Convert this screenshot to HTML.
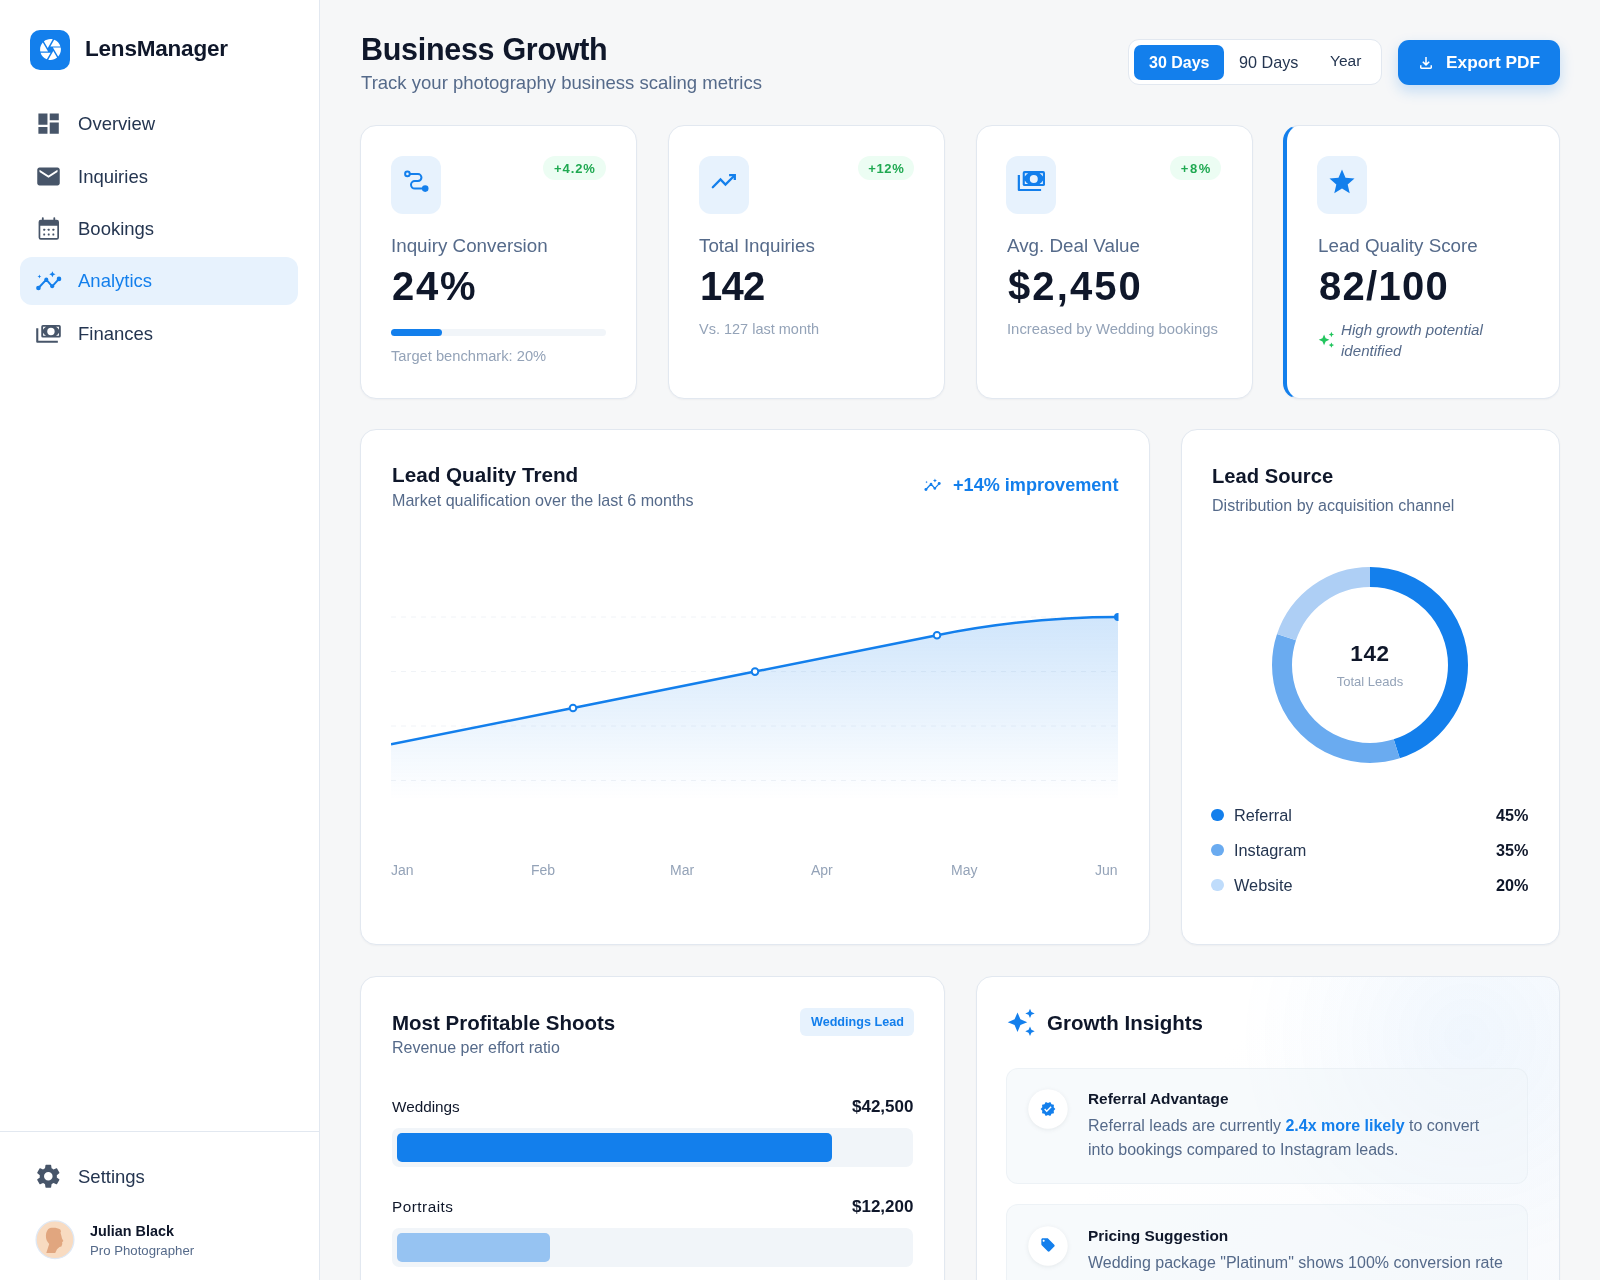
<!DOCTYPE html>
<html><head><meta charset="utf-8"><title>LensManager - Business Growth</title>
<style>
*{box-sizing:border-box;margin:0;padding:0}
html,body{width:1600px;height:1280px;overflow:hidden}
body{background:#f6f7f8;font-family:"Liberation Sans",sans-serif;position:relative}
.a{position:absolute;display:block}
.t{position:absolute;white-space:nowrap;line-height:1;will-change:transform}
.card{position:absolute;background:#fff;border:1px solid #e2e8f0;border-radius:16px;box-shadow:0 1px 2px rgba(15,23,42,0.04)}
</style></head><body>

<div class="a" style="left:0px;top:0px;width:320px;height:1280px;background:#fff;border-right:1px solid #e2e8f0;"></div>
<div class="a" style="left:30px;top:30px;width:40px;height:40px;background:#137fec;border-radius:10px;"></div>
<svg class="a" style="left:37.5px;top:37.4px;" width="25" height="25" viewBox="0 0 24 24"><path fill="#fff" d="M9.4 10.5l4.77-8.26C13.47 2.090 12.75 2 12 2c-2.4 0-4.6.85-6.32 2.25l3.66 6.35.06-.1zM21.54 9c-.92-2.92-3.15-5.26-6-6.34L11.88 9h9.66zm.26 1h-7.49l.29.5 4.76 8.25C21 16.97 22 14.61 22 12c0-.69-.07-1.35-.2-2zM8.54 12l-3.9-6.75C3.01 7.03 2 9.39 2 12c0 .69.07 1.35.2 2h7.49l-1.15-2zm-6.08 3c.92 2.92 3.150 5.26 6 6.34L12.12 15H2.46zm11.27 0l-3.9 6.76c.7.15 1.42.24 2.17.24 2.4 0 4.6-.85 6.32-2.25l-3.66-6.35-.93 1.6z"/></svg>
<div class="t" style="left:85px;top:38.15px;font-size:22.5px;font-weight:700;color:#0f172a;letter-spacing:-0.2px;">LensManager</div>
<div class="a" style="left:20px;top:257px;width:278px;height:48px;background:#e7f2fd;border-radius:12px;"></div>
<svg class="a" style="left:35.2px;top:110.05px;" width="27.2" height="27.2" viewBox="0 0 24 24"><path fill="#475569" d="M3 13h8V3H3v10zm0 8h8v-6H3v6zm10 0h8V11h-8v10zm0-18v6h8V3h-8z"/></svg>
<svg class="a" style="left:35.0px;top:162.5px;" width="27" height="27" viewBox="0 0 24 24"><path fill="#475569" d="M20 4H4c-1.1 0-1.99.9-1.99 2L2 18c0 1.1.9 2 2 2h16c1.1 0 2-.9 2-2V6c0-1.1-.9-2-2-2zm0 4l-8 5-8-5V6l8 5 8-5v2z"/></svg>
<div class="t" style="left:78px;top:114.64px;font-size:18.5px;font-weight:400;color:#243550;">Overview</div>
<div class="t" style="left:78px;top:167.79px;font-size:18.5px;font-weight:400;color:#243550;">Inquiries</div>
<div class="t" style="left:78px;top:220.29px;font-size:18.5px;font-weight:400;color:#243550;">Bookings</div>
<div class="t" style="left:78px;top:272.24px;font-size:18.5px;font-weight:400;color:#137fec;">Analytics</div>
<div class="t" style="left:78px;top:324.74px;font-size:18.5px;font-weight:400;color:#243550;">Finances</div>
<div class="a" style="left:0px;top:1131px;width:319px;height:1px;background:#e2e8f0;"></div>
<svg class="a" style="left:34.4px;top:1161.9px;" width="28.6" height="28.6" viewBox="0 0 24 24"><path fill="#475569" d="M19.14 12.94c.04-.3.06-.61.06-.94 0-.32-.02-.64-.07-.94l2.03-1.58c.18-.14.23-.41.12-.61l-1.92-3.32c-.12-.22-.37-.29-.59-.22l-2.39.96c-.5-.38-1.03-.7-1.62-.94l-.36-2.54c-.04-.24-.24-.41-.48-.41h-3.84c-.24 0-.43.17-.47.41l-.36 2.54c-.59.24-1.13.57-1.62.94l-2.39-.96c-.22-.08-.47 0-.59.22L2.74 8.87c-.12.21-.08.47.12.61l2.03 1.58c-.05.3-.09.63-.09.94s.02.64.07.94l-2.03 1.58c-.18.14-.23.41-.12.61l1.92 3.32c.12.22.37.29.59.22l2.39-.96c.5.38 1.03.7 1.62.94l.36 2.54c.05.24.24.41.48.41h3.84c.24 0 .44-.17.47-.41l.36-2.54c.59-.24 1.13-.56 1.62-.94l2.39.96c.22.08.47 0 .59-.22l1.92-3.32c.12-.22.07-.47-.12-.61l-2.01-1.58zM12 15.6c-1.98 0-3.6-1.62-3.6-3.6s1.62-3.6 3.6-3.6 3.6 1.62 3.6 3.6-1.62 3.6-3.6 3.6z"/></svg>
<div class="t" style="left:78px;top:1167.54px;font-size:18.5px;font-weight:400;color:#243550;">Settings</div>
<div class="t" style="left:90px;top:1224.41px;font-size:14.4px;font-weight:700;color:#0f172a;">Julian Black</div>
<div class="t" style="left:90px;top:1244.03px;font-size:13.2px;font-weight:400;color:#556a8a;">Pro Photographer</div>
<div class="t" style="left:361px;top:34.38px;font-size:30.5px;font-weight:700;color:#0f172a;letter-spacing:-0.3px;">Business Growth</div>
<div class="t" style="left:361px;top:73.80px;font-size:18.55px;font-weight:400;color:#556a8a;">Track your photography business scaling metrics</div>
<div class="a" style="left:1128px;top:39px;width:254px;height:46px;background:#fff;border:1px solid #e2e8f0;border-radius:11px;"></div>
<div class="a" style="left:1134px;top:45px;width:90px;height:35px;background:#137fec;border-radius:7px;"></div>
<div class="t" style="left:1149.4px;top:54.66px;font-size:16px;font-weight:700;color:#fff;">30 Days</div>
<div class="t" style="left:1239px;top:54.49px;font-size:16.2px;font-weight:400;color:#243550;">90 Days</div>
<div class="t" style="left:1329.5px;top:53.28px;font-size:15.5px;font-weight:400;color:#243550;">Year</div>
<div class="a" style="left:1398px;top:40px;width:162px;height:45px;background:#137fec;border-radius:11px;box-shadow:0 6px 14px rgba(19,127,236,0.22);"></div>
<svg class="a" style="left:1417px;top:53.7px;" width="18" height="18" viewBox="0 -960 960 960"><path fill="#fff" d="M480-320 280-520l56-58 104 104v-326h80v326l104-104 56 58-200 200ZM240-160q-33 0-56.5-23.5T160-240v-120h80v120h480v-120h80v120q0 33-23.5 56.5T720-160H240Z"/></svg>
<div class="t" style="left:1445.6px;top:54.36px;font-size:17.3px;font-weight:700;color:#fff;">Export PDF</div>
<div class="card" style="left:360px;top:125px;width:277px;height:274px;"></div>
<div class="card" style="left:668px;top:125px;width:277px;height:274px;"></div>
<div class="card" style="left:975.5px;top:125px;width:277px;height:274px;"></div>
<div class="card" style="left:1283px;top:125px;width:277px;height:274px;border-left:4px solid #137fec;"></div>
<div class="a" style="left:391.25px;top:156px;width:50px;height:58px;background:#e7f2fd;border-radius:12px;"></div>
<div class="a" style="left:698.9px;top:156px;width:50px;height:58px;background:#e7f2fd;border-radius:12px;"></div>
<div class="a" style="left:1006.3px;top:156px;width:50px;height:58px;background:#e7f2fd;border-radius:12px;"></div>
<div class="a" style="left:1317.3px;top:156px;width:50px;height:58px;background:#e7f2fd;border-radius:12px;"></div>
<svg class="a" style="left:1327.2px;top:167px;" width="30" height="30" viewBox="0 0 24 24"><path fill="#137fec" d="M12 17.27L18.18 21l-1.64-7.03L22 9.24l-7.19-.61L12 2 9.19 8.63 2 9.24l5.46 4.73L5.82 21z"/></svg>
<div class="a" style="left:543px;top:156px;width:63px;height:24px;background:#ecfdf3;border-radius:12px;"></div>
<div class="t" style="left:543px;width:63px;padding-left:0.9px;top:161.80px;font-size:13px;font-weight:700;color:#1fa951;text-align:center;letter-spacing:0.9px;">+4.2%</div>
<div class="a" style="left:857.6px;top:156px;width:56.0px;height:24px;background:#ecfdf3;border-radius:12px;"></div>
<div class="t" style="left:857.6px;width:56.0px;padding-left:0.6px;top:161.80px;font-size:13px;font-weight:700;color:#1fa951;text-align:center;letter-spacing:0.6px;">+12%</div>
<div class="a" style="left:1170px;top:156px;width:51px;height:24px;background:#ecfdf3;border-radius:12px;"></div>
<div class="t" style="left:1170px;width:51px;padding-left:1.6px;top:161.80px;font-size:13px;font-weight:700;color:#1fa951;text-align:center;letter-spacing:1.6px;">+8%</div>
<div class="t" style="left:391px;top:237.09px;font-size:18.8px;font-weight:400;color:#556a8a;">Inquiry Conversion</div>
<div class="t" style="left:699px;top:237.09px;font-size:18.8px;font-weight:400;color:#556a8a;">Total Inquiries</div>
<div class="t" style="left:1007px;top:237.09px;font-size:18.8px;font-weight:400;color:#556a8a;">Avg. Deal Value</div>
<div class="t" style="left:1318px;top:237.09px;font-size:18.8px;font-weight:400;color:#556a8a;">Lead Quality Score</div>
<div class="t" style="left:392px;top:266.44px;font-size:40px;font-weight:700;color:#0f172a;letter-spacing:1.8px;">24%</div>
<div class="t" style="left:699.5px;top:266.44px;font-size:40px;font-weight:700;color:#0f172a;letter-spacing:-0.8px;">142</div>
<div class="t" style="left:1007.5px;top:266.44px;font-size:40px;font-weight:700;color:#0f172a;letter-spacing:2.1px;">$2,450</div>
<div class="t" style="left:1319px;top:266.44px;font-size:40px;font-weight:700;color:#0f172a;letter-spacing:1.3px;">82/100</div>
<div class="a" style="left:391.4px;top:329px;width:214.5px;height:7px;background:#f1f5f9;border-radius:4px;"></div>
<div class="a" style="left:391.4px;top:329px;width:51px;height:7px;background:#137fec;border-radius:4px;"></div>
<div class="t" style="left:391.4px;top:348.96px;font-size:14.7px;font-weight:400;color:#94a3b8;">Target benchmark: 20%</div>
<div class="t" style="left:699px;top:322.03px;font-size:14.5px;font-weight:400;color:#94a3b8;">Vs. 127 last month</div>
<div class="t" style="left:1007px;top:321.83px;font-size:14.85px;font-weight:400;color:#94a3b8;">Increased by Wedding bookings</div>
<div class="t" style="left:1340.7px;top:322.02px;font-size:15.1px;font-weight:400;color:#556a8a;font-style:italic;">High growth potential</div>
<div class="t" style="left:1340.7px;top:342.52px;font-size:15.1px;font-weight:400;color:#556a8a;font-style:italic;">identified</div>
<div class="card" style="left:360px;top:429px;width:790px;height:516px;"></div>
<div class="t" style="left:391.7px;top:465.48px;font-size:20.7px;font-weight:700;color:#0f172a;">Lead Quality Trend</div>
<div class="t" style="left:391.7px;top:492.17px;font-size:16.1px;font-weight:400;color:#556a8a;">Market qualification over the last 6 months</div>
<div class="t" style="left:952.5px;top:476.28px;font-size:18.1px;font-weight:700;color:#137fec;">+14% improvement</div>
<div class="t" style="left:391px;top:862.95px;font-size:14px;font-weight:400;color:#94a3b8;">Jan</div>
<div class="t" style="left:530.5px;top:862.95px;font-size:14px;font-weight:400;color:#94a3b8;">Feb</div>
<div class="t" style="left:670px;top:862.95px;font-size:14px;font-weight:400;color:#94a3b8;">Mar</div>
<div class="t" style="left:811px;top:862.95px;font-size:14px;font-weight:400;color:#94a3b8;">Apr</div>
<div class="t" style="left:951px;top:862.95px;font-size:14px;font-weight:400;color:#94a3b8;">May</div>
<div class="t" style="right:482px;top:862.95px;font-size:14px;font-weight:400;color:#94a3b8;">Jun</div>
<div class="card" style="left:1180.5px;top:429px;width:379.5px;height:516px;"></div>
<div class="t" style="left:1211.6px;top:466.00px;font-size:20.2px;font-weight:700;color:#0f172a;">Lead Source</div>
<div class="t" style="left:1211.6px;top:497.41px;font-size:16.05px;font-weight:400;color:#556a8a;">Distribution by acquisition channel</div>
<div class="t" style="left:1270px;width:200px;text-align:center;top:643.35px;font-size:22.5px;font-weight:700;color:#0f172a;letter-spacing:0.7px;">142</div>
<div class="t" style="left:1270px;width:200px;text-align:center;top:675.30px;font-size:13px;color:#94a3b8;">Total Leads</div>
<div class="a" style="left:1211.3px;top:808.5px;width:12.3px;height:12.3px;background:#137fec;border-radius:50%;"></div>
<div class="t" style="left:1234.2px;top:806.50px;font-size:16.3px;font-weight:400;color:#243550;">Referral</div>
<div class="t" style="right:72px;top:806.59px;font-size:16.2px;font-weight:700;color:#0f172a;">45%</div>
<div class="a" style="left:1211.3px;top:843.5px;width:12.3px;height:12.3px;background:#6aabf0;border-radius:50%;"></div>
<div class="t" style="left:1234.2px;top:841.50px;font-size:16.3px;font-weight:400;color:#243550;">Instagram</div>
<div class="t" style="right:72px;top:841.59px;font-size:16.2px;font-weight:700;color:#0f172a;">35%</div>
<div class="a" style="left:1211.3px;top:878.5px;width:12.3px;height:12.3px;background:#bfdcfb;border-radius:50%;"></div>
<div class="t" style="left:1234.2px;top:876.50px;font-size:16.3px;font-weight:400;color:#243550;">Website</div>
<div class="t" style="right:72px;top:876.59px;font-size:16.2px;font-weight:700;color:#0f172a;">20%</div>
<div class="card" style="left:360px;top:976px;width:584.5px;height:340px;"></div>
<div class="t" style="left:392px;top:1013.05px;font-size:20.5px;font-weight:700;color:#0f172a;">Most Profitable Shoots</div>
<div class="t" style="left:392px;top:1040.46px;font-size:16px;font-weight:400;color:#556a8a;">Revenue per effort ratio</div>
<div class="a" style="left:800px;top:1007.5px;width:113.5px;height:28px;background:#e7f2fd;border-radius:6px;"></div>
<div class="t" style="left:810.5px;top:1015.93px;font-size:12.6px;font-weight:700;color:#137fec;">Weddings Lead</div>
<div class="t" style="left:391.5px;top:1099.05px;font-size:15.3px;font-weight:400;color:#0f172a;">Weddings</div>
<div class="t" style="right:687px;top:1097.91px;font-size:17px;font-weight:700;color:#0f172a;">$42,500</div>
<div class="a" style="left:391.5px;top:1127.7px;width:521.5px;height:39.5px;background:#f1f5f9;border-radius:7px;"></div>
<div class="a" style="left:396.5px;top:1133px;width:435.7px;height:29px;background:#137fec;border-radius:5px;"></div>
<div class="t" style="left:391.5px;top:1199.05px;font-size:15.3px;font-weight:400;color:#0f172a;letter-spacing:0.5px;">Portraits</div>
<div class="t" style="right:687px;top:1197.91px;font-size:17px;font-weight:700;color:#0f172a;">$12,200</div>
<div class="a" style="left:391.5px;top:1227.5px;width:521.5px;height:39.5px;background:#f1f5f9;border-radius:7px;"></div>
<div class="a" style="left:396.5px;top:1233px;width:153.5px;height:29px;background:#96c3f2;border-radius:5px;"></div>
<div class="card" style="left:975.5px;top:976px;width:584.5px;height:340px;overflow:hidden;background:radial-gradient(circle 230px at 490px 60px, rgba(19,127,236,0.055) 0%, rgba(19,127,236,0.02) 60%, rgba(19,127,236,0) 100%), linear-gradient(135deg, #ffffff 35%, #f8fafd 100%);"></div>
<div class="t" style="left:1047px;top:1013.15px;font-size:20.5px;font-weight:700;color:#0f172a;">Growth Insights</div>
<div class="a" style="left:1006.3px;top:1067.6px;width:522.2px;height:116px;background:rgba(241,245,249,0.55);border:1px solid rgba(226,232,240,0.45);border-radius:12px;"></div>
<svg class="a" style="left:1027.7px;top:1088.8999999999999px;filter:drop-shadow(0 1px 2px rgba(15,23,42,0.08));" width="40" height="40" viewBox="0 0 40 40"><circle cx="20" cy="20" r="19.75" fill="#fff"/></svg>
<div class="t" style="left:1087.8px;top:1091.16px;font-size:15.4px;font-weight:700;color:#0f172a;">Referral Advantage</div>
<div class="t" style="left:1087.8px;top:1118.26px;font-size:16.0px;font-weight:400;color:#556a8a;">Referral leads are currently <b style="color:#137fec">2.4x more likely</b> to convert</div>
<div class="t" style="left:1087.8px;top:1142.26px;font-size:16.0px;font-weight:400;color:#556a8a;">into bookings compared to Instagram leads.</div>
<svg class="a" style="left:1039.5px;top:1100.6px;" width="16" height="16" viewBox="0 0 24 24"><path fill="#137fec" d="M23 12l-2.44-2.79.34-3.69-3.61-.82-1.89-3.2L12 2.96 8.6 1.5 6.71 4.69 3.1 5.5l.34 3.7L1 12l2.44 2.79-.34 3.7 3.61.82L8.6 22.5l3.4-1.47 3.4 1.46 1.89-3.19 3.61-.82-.34-3.69L23 12zm-12.91 4.72l-3.8-3.81 1.48-1.48 2.32 2.33 5.85-5.87 1.48 1.48-7.33 7.35z"/></svg>
<div class="a" style="left:1006.3px;top:1204.4px;width:522.2px;height:116px;background:rgba(241,245,249,0.55);border:1px solid rgba(226,232,240,0.45);border-radius:12px;"></div>
<svg class="a" style="left:1027.7px;top:1225.7px;filter:drop-shadow(0 1px 2px rgba(15,23,42,0.08));" width="40" height="40" viewBox="0 0 40 40"><circle cx="20" cy="20" r="19.75" fill="#fff"/></svg>
<div class="t" style="left:1087.8px;top:1227.96px;font-size:15.4px;font-weight:700;color:#0f172a;">Pricing Suggestion</div>
<div class="t" style="left:1087.8px;top:1255.06px;font-size:16.0px;font-weight:400;color:#556a8a;">Wedding package "Platinum" shows 100% conversion rate</div>
<div class="t" style="left:1087.8px;top:1279.06px;font-size:16.0px;font-weight:400;color:#556a8a;">for luxury couples. Consider a price increase.</div>
<svg class="a" style="left:1039.5px;top:1236.5px;" width="16" height="16" viewBox="0 0 24 24"><path fill="#137fec" d="M21.41 11.58l-9-9C12.05 2.22 11.55 2 11 2H4c-1.1 0-2 .9-2 2v7c0 .55.22 1.05.59 1.42l9 9c.36.36.86.58 1.41.58.55 0 1.05-.22 1.41-.59l7-7c.37-.36.59-.86.59-1.41 0-.55-.23-1.06-.59-1.42zM5.5 7C4.67 7 4 6.33 4 5.5S4.67 4 5.5 4 7 4.67 7 5.5 6.33 7 5.5 7z"/></svg>
<svg class="a" style="left:0;top:0;pointer-events:none" width="1600" height="1280" viewBox="0 0 1600 1280"><path fill="#475569" fill-rule="evenodd" d="M40.8 219.7H56.8A2.2 2.2 0 0 1 59 221.9V237.6A2.2 2.2 0 0 1 56.8 239.8H40.8A2.2 2.2 0 0 1 38.6 237.6V221.9A2.2 2.2 0 0 1 40.8 219.7ZM40.3 225.75V238.1H57.3V225.75Z"/><rect x="41.9" y="217.2" width="1.8" height="3.5" rx="0.8" fill="#475569"/><rect x="53.4" y="217.2" width="1.8" height="3.5" rx="0.8" fill="#475569"/><rect x="43.25" y="228.85000000000002" width="1.9" height="1.9" rx="0.4" fill="#475569"/><rect x="43.25" y="233.55" width="1.9" height="1.9" rx="0.4" fill="#475569"/><rect x="47.75" y="228.85000000000002" width="1.9" height="1.9" rx="0.4" fill="#475569"/><rect x="47.75" y="233.55" width="1.9" height="1.9" rx="0.4" fill="#475569"/><rect x="52.4" y="228.85000000000002" width="1.9" height="1.9" rx="0.4" fill="#475569"/><rect x="52.4" y="233.55" width="1.9" height="1.9" rx="0.4" fill="#475569"/><path fill="none" stroke="#137fec" stroke-width="2.00" stroke-linejoin="round" stroke-linecap="round" d="M38.44 288.00 L46.30 279.60 L52.20 286.35 L59.00 278.90"/><circle cx="38.44" cy="288.00" r="2.30" fill="#137fec"/><circle cx="46.30" cy="279.60" r="2.00" fill="#137fec"/><circle cx="52.20" cy="286.35" r="2.00" fill="#137fec"/><circle cx="59.00" cy="278.90" r="2.30" fill="#137fec"/><path fill="#137fec" d="M52.40 271.15L53.33 273.32L55.50 274.25L53.33 275.18L52.40 277.35L51.47 275.18L49.30 274.25L51.47 273.32Z"/><path fill="#137fec" d="M39.40 274.60L39.97 275.93L41.30 276.50L39.97 277.07L39.40 278.40L38.83 277.07L37.50 276.50L38.83 275.93Z"/><rect x="41.25" y="325" width="19.55" height="12.60" rx="1.66" fill="#475569"/><circle cx="50.95" cy="331.45" r="3.7" fill="#fff"/><path fill="#fff" d="M43.11 326.86H46.04Q44.13 327.88 43.11 329.79Z"/><path fill="#fff" d="M58.94 326.86H56.01Q57.92 327.88 58.94 329.79Z"/><path fill="#fff" d="M43.11 335.74H46.04Q44.13 334.72 43.11 332.81Z"/><path fill="#fff" d="M58.94 335.74H56.01Q57.92 334.72 58.94 332.81Z"/><path fill="none" stroke="#475569" stroke-width="2.1" stroke-linejoin="round" d="M37.26 328.2V341.8H57.85"/><circle cx="55" cy="1239.8" r="18.9" fill="#f8dbc1" stroke="#dfe8f4" stroke-width="1.3"/><path fill="#e1a67f" d="M50 1228.1C53.5 1227.4 57.5 1227.8 60.3 1229.4L61 1231.2L60.5 1232.8L61.3 1235.5L62 1238.5L63.4 1241.1L62.1 1242.2L62.3 1244L61.4 1246.4L59.5 1246.9L57 1249.2L55.2 1253H46.3L49.2 1243.9C46.9 1241.8 45.8 1238.8 45.9 1235.8C46 1232.2 47.4 1229.1 50 1228.1Z"/><g fill="none" stroke="#137fec" stroke-width="2"><circle cx="407.43" cy="173.9" r="2.3"/><path d="M409.8 174.1H418A3.45 3.45 0 0 1 418 181H414.8A3.8 3.8 0 0 0 414.8 188.6H424"/></g><circle cx="425.2" cy="188.6" r="3.3" fill="#137fec"/><path fill="none" stroke="#137fec" stroke-width="2.3" stroke-linecap="round" stroke-linejoin="miter" d="M712.8 187.2L720.5 179.5L725.45 184.5L734 176"/><path fill="none" stroke="#137fec" stroke-width="2.3" stroke-linecap="butt" stroke-linejoin="miter" d="M729.1 175.1H734.8V180.1"/><rect x="1022.7" y="171.1" width="22.30" height="14.95" rx="1.90" fill="#137fec"/><circle cx="1033.8" cy="178.9" r="4.0" fill="#e7f2fd"/><path fill="#e7f2fd" d="M1024.82 173.22H1028.16Q1025.99 174.39 1024.82 176.56Z"/><path fill="#e7f2fd" d="M1042.88 173.22H1039.54Q1041.71 174.39 1042.88 176.56Z"/><path fill="#e7f2fd" d="M1024.82 183.93H1028.16Q1025.99 182.76 1024.82 180.59Z"/><path fill="#e7f2fd" d="M1042.88 183.93H1039.54Q1041.71 182.76 1042.88 180.59Z"/><path fill="none" stroke="#137fec" stroke-width="2.2" stroke-linejoin="round" d="M1018.85 174.9V190H1041.1"/><g fill="#22c55e"><path d="M1324.07 334.53L1325.66 338.24L1329.37 339.83L1325.66 341.42L1324.07 345.13L1322.48 341.42L1318.77 339.83L1322.48 338.24Z"/><path d="M1331.40 331.85L1332.21 333.74L1334.10 334.55L1332.21 335.36L1331.40 337.25L1330.59 335.36L1328.70 334.55L1330.59 333.74Z"/><path d="M1331.40 342.40L1332.21 344.29L1334.10 345.10L1332.21 345.91L1331.40 347.80L1330.59 345.91L1328.70 345.10L1330.59 344.29Z"/></g><path fill="none" stroke="#137fec" stroke-width="1.29" stroke-linejoin="round" stroke-linecap="round" d="M925.94 489.46 L931.01 484.04 L934.82 488.39 L939.20 483.59"/><circle cx="925.94" cy="489.46" r="1.48" fill="#137fec"/><circle cx="931.01" cy="484.04" r="1.29" fill="#137fec"/><circle cx="934.82" cy="488.39" r="1.29" fill="#137fec"/><circle cx="939.20" cy="483.59" r="1.48" fill="#137fec"/><path fill="#137fec" d="M934.95 478.59L935.55 479.99L936.95 480.59L935.55 481.19L934.95 482.59L934.35 481.19L932.95 480.59L934.35 479.99Z"/><path fill="#137fec" d="M926.56 480.81L926.93 481.67L927.79 482.04L926.93 482.41L926.56 483.27L926.19 482.41L925.34 482.04L926.19 481.67Z"/><defs><linearGradient id="gfill" x1="0" y1="617" x2="0" y2="800" gradientUnits="userSpaceOnUse">
<stop offset="0" stop-color="#137fec" stop-opacity="0.2"/><stop offset="1" stop-color="#137fec" stop-opacity="0"/></linearGradient>
<clipPath id="cclip"><rect x="391" y="540" width="727.5" height="280"/></clipPath></defs>
<g stroke="#f0f3f7" stroke-width="1" stroke-dasharray="5 5">
<line x1="391" y1="617" x2="1118" y2="617"/><line x1="391" y1="671.5" x2="1118" y2="671.5"/>
<line x1="391" y1="726" x2="1118" y2="726"/><line x1="391" y1="780.5" x2="1118" y2="780.5"/></g>
<g clip-path="url(#cclip)">
<path fill="url(#gfill)" d="M391 744.3 L573 708 L755 671.6 L937 635.2 Q1027 617 1118 617 L1118 800 L391 800 Z"/>
<path fill="none" stroke="#137fec" stroke-width="2.5" stroke-linejoin="round" d="M391 744.3 L573 708 L755 671.6 L937 635.2 Q1027 617 1118 617"/>
<circle cx="1118" cy="617" r="4" fill="#137fec"/>
</g>
<g fill="#fff" stroke="#137fec" stroke-width="2"><circle cx="573" cy="708" r="3.3"/><circle cx="755" cy="671.6" r="3.3"/><circle cx="937" cy="635.2" r="3.3"/></g><circle cx="1370" cy="665" r="88" fill="none" stroke="#137fec" stroke-width="20" stroke-dasharray="248.814 552.920" stroke-dashoffset="-0.000" transform="rotate(-90 1370 665)"/><circle cx="1370" cy="665" r="88" fill="none" stroke="#6aabf0" stroke-width="20" stroke-dasharray="193.522 552.920" stroke-dashoffset="-248.814" transform="rotate(-90 1370 665)"/><circle cx="1370" cy="665" r="88" fill="none" stroke="#aecff5" stroke-width="20" stroke-dasharray="110.584 552.920" stroke-dashoffset="-442.336" transform="rotate(-90 1370 665)"/><g fill="#137fec"><path d="M1017.50 1012.45L1020.42 1019.28L1027.25 1022.20L1020.42 1025.12L1017.50 1031.95L1014.58 1025.12L1007.75 1022.20L1014.58 1019.28Z"/><path d="M1030.00 1008.70L1031.41 1011.99L1034.70 1013.40L1031.41 1014.81L1030.00 1018.10L1028.59 1014.81L1025.30 1013.40L1028.59 1011.99Z"/><path d="M1030.00 1026.55L1031.41 1029.84L1034.70 1031.25L1031.41 1032.66L1030.00 1035.95L1028.59 1032.66L1025.30 1031.25L1028.59 1029.84Z"/></g></svg>
</body></html>
